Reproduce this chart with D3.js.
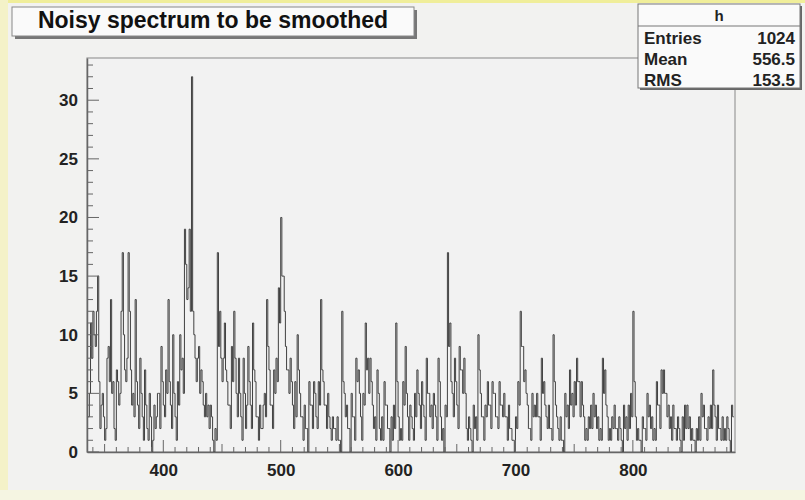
<!DOCTYPE html>
<html>
<head>
<meta charset="utf-8">
<script src="https://cdn.jsdelivr.net/npm/d3@7"></script>
<style>
  html, body { margin: 0; padding: 0; background: #f2f2f0; }
  svg { display: block; }
</style>
</head>
<body>
<svg id="chart" width="805" height="500"></svg>
<script>
// Histogram "h": unit-width bins starting at binStart
const binStart = 336;
const binWidth = 1;
const counts = [
  3, 5, 11, 8, 12, 10, 9, 12, 15, 6,     2, 4, 5, 3, 1, 2, 8, 9, 6, 13,
  5, 6, 2, 1, 7, 6, 4, 5, 12, 17,        10, 7, 6, 8, 17, 12, 7, 4, 5, 3,
  13, 6, 4, 2, 8, 5, 3, 1, 7, 4,         2, 1, 5, 3, 0, 1, 4, 2, 3, 5,
  5, 2, 9, 6, 4, 3, 7, 5, 13, 6,         4, 2, 10, 5, 3, 1, 6, 4, 10, 7,
  8, 5, 19, 16, 13, 14, 19, 12, 32, 12,  10, 8, 6, 8, 9, 5, 7, 6, 4, 3,
  5, 3, 4, 2, 4, 3, 1, 0, 2, 1,          17, 9, 12, 8, 6, 8, 11, 7, 6, 4,
  4, 2, 9, 6, 12, 8, 5, 3, 8, 5,         3, 1, 8, 5, 2, 4, 9, 6, 4, 2,
  11, 7, 6, 3, 3, 1, 4, 2, 2, 4,         5, 3, 13, 9, 7, 4, 4, 2, 7, 5,
  8, 6, 14, 11, 20, 15, 15, 12, 9, 7,    7, 5, 8, 6, 4, 2, 6, 3, 10, 7,
  5, 3, 3, 1, 4, 2, 2, 0, 6, 4,          4, 2, 6, 5, 3, 2, 6, 4, 13, 7,
  6, 4, 4, 2, 5, 3, 2, 1, 3, 2,          2, 1, 3, 1, 1, 0, 12, 6, 5, 3,
  4, 2, 2, 0, 5, 3, 3, 1, 8, 6,          7, 5, 3, 1, 5, 4, 11, 7, 8, 5,
  8, 6, 4, 2, 3, 1, 7, 5, 2, 1,          3, 1, 6, 4, 4, 2, 2, 0, 3, 1,
  4, 2, 11, 6, 3, 1, 2, 1, 6, 4,         9, 5, 3, 1, 4, 3, 2, 1, 5, 3,
  7, 5, 4, 2, 6, 4, 3, 1, 8, 5,          5, 3, 4, 2, 5, 4, 3, 1, 8, 6,
  3, 1, 2, 0, 4, 3, 17, 9, 11, 6,        5, 3, 8, 6, 4, 2, 9, 7, 7, 5,
  8, 5, 2, 1, 3, 2, 1, 0, 4, 2,          3, 1, 10, 7, 5, 3, 3, 1, 4, 3,
  6, 4, 4, 2, 6, 5, 5, 3, 3, 2,          6, 4, 4, 3, 5, 3, 3, 1, 4, 2,
  2, 1, 1, 0, 3, 2, 6, 4, 12, 9,         9, 6, 7, 5, 4, 2, 2, 1, 5, 3,
  4, 3, 5, 3, 3, 1, 8, 5, 6, 4,          3, 2, 4, 2, 2, 1, 10, 6, 4, 3,
  2, 1, 3, 1, 1, 0, 5, 3, 4, 2,          7, 4, 5, 3, 6, 4, 8, 6, 6, 3,
  6, 4, 3, 1, 2, 1, 3, 2, 4, 2,          5, 3, 4, 2, 3, 1, 2, 1, 8, 5,
  7, 4, 3, 1, 2, 1, 3, 2, 4, 2,          2, 1, 3, 2, 1, 0, 4, 2, 3, 1,
  4, 2, 5, 3, 12, 6, 3, 1, 2, 1,         1, 0, 3, 2, 2, 1, 5, 3, 4, 2,
  3, 1, 2, 1, 6, 4, 4, 2, 7, 5,          7, 5, 5, 3, 4, 2, 3, 1, 4, 2,
  2, 1, 3, 2, 1, 0, 3, 1, 4, 2,          4, 2, 3, 1, 2, 1, 1, 0, 2, 1,
  3, 1, 5, 3, 4, 2, 2, 1, 3, 2,          4, 2, 7, 4, 3, 1, 4, 2, 2, 1,
  3, 1, 2, 1, 3, 2, 1, 0, 4, 3
];
const xTicks = [400, 500, 600, 700, 800];
const yTicks = [0, 5, 10, 15, 20, 25, 30];
const title = 'Noisy spectrum to be smoothed';
const statsName = 'h';
const statsRows = [['Entries', '1024'], ['Mean', '556.5'], ['RMS', '153.5']];

const svg = d3.select('#chart');
const W = 805, H = 500;
const frame = { left: 87, right: 735, top: 58, bottom: 452 };
const font = 'Liberation Sans, Arial, sans-serif';

// canvas and its tinted edges
svg.append('rect').attr('width', W).attr('height', H).attr('fill', '#f2f2f0');
svg.append('rect').attr('x', 0).attr('y', 0).attr('width', W).attr('height', 3).attr('fill', '#f0ee9a');
svg.append('rect').attr('x', 0).attr('y', 0).attr('width', 8).attr('height', H).attr('fill', '#f4f2c8');
svg.append('rect').attr('x', 0).attr('y', 490).attr('width', W).attr('height', 10).attr('fill', '#f5f5e2');

const x = d3.scaleLinear().domain([335, 887]).range([frame.left, frame.right]);
const y = d3.scaleLinear().domain([0, 33.6]).range([frame.bottom, frame.top]);

// frame
svg.append('rect')
  .attr('x', frame.left).attr('y', frame.top)
  .attr('width', frame.right - frame.left).attr('height', frame.bottom - frame.top)
  .attr('fill', '#f2f2f2').attr('stroke', '#999').attr('stroke-width', 1.2);

// histogram drawn as steps
const pts = counts.map((c, i) => [binStart + i * binWidth, c]);
pts.push([binStart + counts.length * binWidth, counts[counts.length - 1]]);
const line = d3.line()
  .x(d => x(d[0]))
  .y(d => y(d[1]))
  .curve(d3.curveStepAfter);
svg.append('path')
  .datum(pts)
  .attr('d', line)
  .attr('fill', 'none')
  .attr('stroke', '#404040')
  .attr('stroke-width', 1);

// axes, ROOT style ticks pointing into the frame
const xAxis = d3.axisBottom(x).tickValues(xTicks).tickSize(0).tickPadding(12).tickFormat(d3.format('d'));
const gx = svg.append('g').attr('transform', `translate(0,${frame.bottom})`).call(xAxis);
gx.select('.domain').attr('stroke', '#666').attr('stroke-width', 1.5);
gx.selectAll('text').attr('font-family', font)
  .attr('font-weight', 'bold').attr('font-size', 17).attr('fill', '#222');

const xMinor = d3.range(340, 887, 10);
svg.append('g').selectAll('line').data(xMinor).join('line')
  .attr('x1', d => x(d)).attr('x2', d => x(d))
  .attr('y1', frame.bottom)
  .attr('y2', d => frame.bottom - (d % 100 === 0 ? 12 : d % 50 === 0 ? 8 : 5))
  .attr('stroke', '#666').attr('stroke-width', 1);

const yAxis = d3.axisLeft(y).tickValues(yTicks).tickSize(0).tickPadding(9);
const gy = svg.append('g').attr('transform', `translate(${frame.left},0)`).call(yAxis);
gy.select('.domain').attr('stroke', '#666').attr('stroke-width', 1.5);
gy.selectAll('text').attr('font-family', font)
  .attr('font-weight', 'bold').attr('font-size', 17).attr('fill', '#222');

const yMinor = d3.range(0, 33.5, 1);
svg.append('g').selectAll('line').data(yMinor).join('line')
  .attr('x1', frame.left)
  .attr('x2', d => frame.left + (d % 5 === 0 ? 12 : 6))
  .attr('y1', d => y(d)).attr('y2', d => y(d))
  .attr('stroke', '#666').attr('stroke-width', 1);

// title box with shadow
const tb = { x: 12, y: 7, w: 402, h: 29 };
svg.append('rect').attr('x', tb.x + 3).attr('y', tb.y + 3).attr('width', tb.w).attr('height', tb.h).attr('fill', '#777');
svg.append('rect').attr('x', tb.x).attr('y', tb.y).attr('width', tb.w).attr('height', tb.h)
  .attr('fill', '#fafafa').attr('stroke', '#888').attr('stroke-width', 1);
svg.append('text').attr('x', tb.x + tb.w / 2).attr('y', tb.y + 21)
  .attr('text-anchor', 'middle')
  .attr('font-family', font)
  .attr('font-weight', 'bold').attr('font-size', 23).attr('fill', '#111')
  .text(title);

// stats box
const sb = { x: 638, y: 4, w: 162, h: 84 };
svg.append('rect').attr('x', sb.x + 2).attr('y', sb.y + 2).attr('width', sb.w).attr('height', sb.h).attr('fill', '#666');
svg.append('rect').attr('x', sb.x).attr('y', sb.y).attr('width', sb.w).attr('height', sb.h)
  .attr('fill', '#fafafa').attr('stroke', '#777').attr('stroke-width', 1);
svg.append('line').attr('x1', sb.x).attr('x2', sb.x + sb.w).attr('y1', sb.y + 22).attr('y2', sb.y + 22)
  .attr('stroke', '#777');
svg.append('text').attr('x', sb.x + sb.w / 2).attr('y', sb.y + 17)
  .attr('text-anchor', 'middle').attr('font-family', font)
  .attr('font-weight', 'bold').attr('font-size', 15).attr('fill', '#222').text(statsName);
statsRows.forEach((r, i) => {
  const ty = sb.y + 40 + i * 21;
  svg.append('text').attr('x', sb.x + 6).attr('y', ty)
    .attr('font-family', font)
    .attr('font-weight', 'bold').attr('font-size', 17).attr('fill', '#222').text(r[0]);
  svg.append('text').attr('x', sb.x + sb.w - 5).attr('y', ty).attr('text-anchor', 'end')
    .attr('font-family', font)
    .attr('font-weight', 'bold').attr('font-size', 17).attr('fill', '#222').text(r[1]);
});
</script>
</body>
</html>
